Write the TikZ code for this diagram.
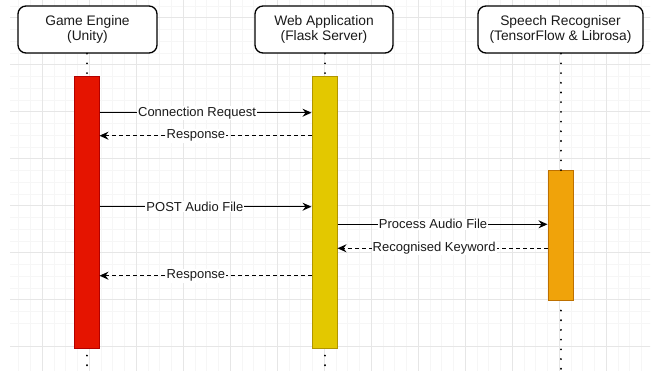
\documentclass[tikz,border=0pt]{standalone}
\usepackage{fontspec}
\setmainfont{Liberation Sans}
\usetikzlibrary{arrows.meta}
\definecolor{gridmaj}{HTML}{E6E6E6}
\definecolor{gridmin}{HTML}{F6F6F6}
\definecolor{redfill}{HTML}{E51400}
\definecolor{redline}{HTML}{B20000}
\definecolor{yelfill}{HTML}{E3C800}
\definecolor{yelline}{HTML}{B09500}
\definecolor{orafill}{HTML}{F0A30A}
\definecolor{oraline}{HTML}{BD7000}
\definecolor{txt}{HTML}{1A1A1A}
\tikzset{
  actor/.style={draw=black, line width=1.3pt, rounded corners=8pt, fill=white,
    minimum height=47pt, align=center, font=\fontsize{13.8}{15.5}\selectfont, text=txt, inner sep=0pt},
  bar/.style={minimum width=25pt, inner sep=0pt, line width=1pt},
  life/.style={line width=2pt, line cap=round, dash pattern=on 0.1pt off 9.6pt},
  msg/.style={line width=1.2pt, -{Stealth[length=9pt,width=8pt,inset=3pt]}},
  reply/.style={msg, dash pattern=on 4pt off 3pt},
  lbl/.style={fill=white, inner sep=1pt, text=txt, font=\fontsize{13}{15}\selectfont}
}
\begin{document}
\begin{tikzpicture}[x=1pt,y=-1pt]
\useasboundingbox (0,0) rectangle (656,371);
\fill[white] (0,0) rectangle (656,371);
% grid
\begin{scope}
\clip (10,0) rectangle (650,371);
\foreach \i in {-4,...,52} {
  \draw[gridmin, line width=0.8pt] ({42.3+11.75*\i},0) -- ({42.3+11.75*\i},371);
}
\foreach \i in {-6,...,26} {
  \draw[gridmin, line width=0.8pt] (0,{17.7+11.75*\i}) -- (656,{17.7+11.75*\i});
}
\foreach \i in {-1,...,13} {
  \draw[gridmaj, line width=0.9pt] ({42.3+47*\i},0) -- ({42.3+47*\i},371);
}
\foreach \i in {-1,...,8} {
  \draw[gridmaj, line width=0.9pt] (0,{17.7+47*\i}) -- (656,{17.7+47*\i});
}
\end{scope}
% actors
\node[actor, minimum width=139pt] (ge) at (87.5,29.5) {Game Engine\\(Unity)};
\node[actor, minimum width=138pt] (wa) at (324,29.5) {Web Application\\(Flask Server)};
\node[actor, minimum width=165pt] (sr) at (560.5,29.5) {Speech Recogniser\\(TensorFlow \& Librosa)};
% activation bars
\node[bar, draw=redline, fill=redfill, minimum height=271pt] (rb) at (86.5,212.5) {};
\node[bar, draw=yelline, fill=yelfill, minimum height=271pt] (yb) at (324.5,212.5) {};
\node[bar, draw=oraline, fill=orafill, minimum height=130pt] (ob) at (560.5,236) {};
% lifelines
\coordinate (geend) at (86.5,371);
\coordinate (waend) at (324.5,371);
\coordinate (srend) at (560.5,371);
\draw[life] (rb.north |- ge.south) -- (rb.north);
\draw[life] (rb.south) ++(0,7) -- (geend);
\draw[life] (yb.north |- wa.south) -- (yb.north);
\draw[life] (yb.south) ++(0,7) -- (waend);
\draw[life] (ob.north |- sr.south) -- (ob.north);
\draw[life] (ob.south) ++(0,9) -- (srend);
% messages
\draw[msg] (rb.east |- 0,112.7) -- node[lbl, pos=0.46] {Connection Request} (yb.west |- 0,112.7);
\draw[reply] (yb.west |- 0,135.7) -- node[lbl, pos=0.545] {Response} (rb.east |- 0,135.7);
\draw[msg] (rb.east |- 0,206.7) -- node[lbl, pos=0.45] {POST Audio File} (yb.west |- 0,206.7);
\draw[msg] (yb.east |- 0,224.3) -- node[lbl, pos=0.455] {Process Audio File} (ob.west |- 0,224.3);
\draw[reply] (ob.west |- 0,248.3) -- node[lbl, pos=0.54] {Recognised Keyword} (yb.east |- 0,248.3);
\draw[reply] (yb.west |- 0,275.7) -- node[lbl, pos=0.545] {Response} (rb.east |- 0,275.7);
\end{tikzpicture}
\end{document}
